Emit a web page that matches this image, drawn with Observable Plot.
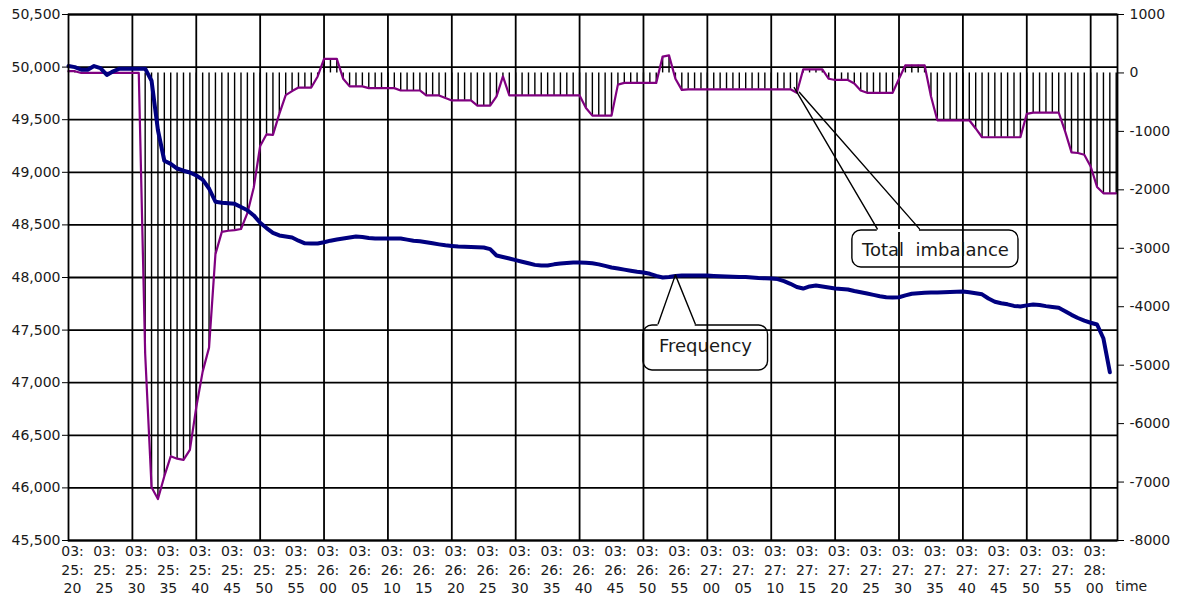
<!DOCTYPE html>
<html><head><meta charset="utf-8">
<script src="https://cdn.jsdelivr.net/npm/d3@7"></script>
<script src="https://cdn.jsdelivr.net/npm/@observablehq/plot@0.6"></script>
<style>
body{margin:0;background:#fff;font-family:"DejaVu Sans",sans-serif}
#chart{width:1179px;height:600px}
</style>
</head><body><div id="chart"></div>
<script>
// Category labels every 5 s (one sample per second)
const timeLabels = ["03:25:20","03:25:25","03:25:30","03:25:35","03:25:40","03:25:45","03:25:50","03:25:55",
  "03:26:00","03:26:05","03:26:10","03:26:15","03:26:20","03:26:25","03:26:30","03:26:35","03:26:40",
  "03:26:45","03:26:50","03:26:55","03:27:00","03:27:05","03:27:10","03:27:15","03:27:20","03:27:25",
  "03:27:30","03:27:35","03:27:40","03:27:45","03:27:50","03:27:55","03:28:00"];

// Frequency (left axis, mHz), one value per second from 03:25:20
const frequency = [
  50010,50000,49975,49975,50010,49990,49925,49960,49985,49985,
  49985,49985,49985,49870,49400,49110,49080,49036,49015,48998,
  48970,48930,48846,48720,48710,48705,48700,48670,48640,48590,
  48520,48470,48425,48400,48390,48380,48350,48325,48323,48323,
  48335,48350,48361,48370,48380,48390,48385,48375,48370,48370,
  48370,48370,48370,48360,48350,48345,48335,48325,48315,48306,
  48300,48295,48292,48290,48287,48285,48270,48209,48195,48181,
  48165,48150,48135,48120,48114,48115,48125,48133,48138,48143,
  48143,48140,48135,48125,48110,48095,48086,48075,48065,48055,
  48048,48035,48015,48000,48005,48015,48019,48019,48019,48019,
  48018,48015,48012,48010,48008,48005,48005,48000,47995,47992,
  47990,47985,47965,47940,47910,47895,47915,47924,47915,47905,
  47895,47890,47886,47872,47860,47848,47835,47822,47812,47810,
  47812,47830,47845,47850,47855,47857,47857,47860,47862,47865,
  47867,47860,47850,47840,47800,47770,47755,47745,47730,47724,
  47735,47743,47738,47728,47720,47712,47680,47645,47615,47590,
  47570,47553,47420,47100];

// Total imbalance (right axis, MW), one value per second from 03:25:20
const imbalance = [
  30,30,0,0,0,0,0,0,0,0,
  0,0,-4800,-7090,-7290,-6900,-6560,-6600,-6620,-6450,
  -5720,-5110,-4700,-3100,-2720,-2700,-2690,-2670,-2400,-1960,
  -1250,-1050,-1060,-700,-380,-310,-250,-250,-250,-60,
  240,240,240,-100,-230,-230,-230,-260,-260,-260,
  -260,-260,-300,-300,-300,-300,-385,-385,-385,-430,
  -470,-470,-470,-470,-560,-560,-560,-400,-60,-385,
  -385,-385,-385,-385,-385,-385,-385,-385,-385,-385,
  -385,-600,-730,-730,-730,-730,-200,-170,-170,-170,
  -170,-170,-170,280,300,-100,-290,-280,-280,-280,
  -280,-280,-280,-280,-280,-280,-280,-280,-280,-280,
  -280,-280,-280,-280,-340,60,60,60,60,-100,
  -120,-120,-120,-180,-300,-340,-340,-340,-340,-340,
  -100,130,130,130,130,-400,-810,-810,-810,-810,
  -810,-810,-950,-1100,-1100,-1100,-1100,-1100,-1100,-1100,
  -700,-680,-680,-680,-680,-680,-1000,-1360,-1370,-1400,
  -1600,-1950,-2060,-2060,-2060];

const freqTicks = [45500,46000,46500,47000,47500,48000,48500,49000,49500,50000,50500];
const imbTicks = [1000,0,-1000,-2000,-3000,-4000,-5000,-6000,-7000,-8000];

// map right-axis values onto the left-axis scale
const fDomain = [45500, 50500], iDomain = [-8000, 1000];
const toY = v => fDomain[0] + (v - iDomain[0]) * (fDomain[1] - fDomain[0]) / (iDomain[1] - iDomain[0]);
const fromY = y => iDomain[0] + (y - fDomain[0]) * (iDomain[1] - iDomain[0]) / (fDomain[1] - fDomain[0]);

// annotations (data coordinates: seconds, frequency units)
const freqCallout = {box: {t1: 90.0, t2: 109.5, f1: 47116, f2: 47544}, label: {t: 99.7, f: 47345, text: "Frequency"},
  pointer: [{t: 92.3, f: 47560}, {t: 95.0, f: 48025}, {t: 98.1, f: 47560}]};
const imbCallout = {box: {t1: 122.7, t2: 148.7, f1: 48095, f2: 48447}, label: {t: 135.7, f: 48262, text: "Total  imbalance"},
  pointers: [[{t: 113.6, f: toY(-250)}, {t: 126.6, f: 48462}], [{t: 114.4, f: toY(-330)}, {t: 133.2, f: 48462}]]};

const freqData = frequency.map((f, t) => ({t, f}));
const imbData = imbalance.map((v, t) => ({t, v}));
const labelSeconds = timeLabels.map((_, i) => i * 5);
const gridSeconds = labelSeconds.filter((s, i) => i % 2 === 0 && s > 0);
const ink = "#1a1a1a";

const chart = Plot.plot({
  width: 1179, height: 600,
  marginLeft: 68, marginRight: 62, marginTop: 14, marginBottom: 60,
  x: {domain: [0, 164.2], axis: null},
  y: {domain: fDomain, axis: null},
  style: {fontFamily: "'DejaVu Sans', sans-serif", fontSize: "14px", color: ink, background: "white"},
  marks: [
    Plot.gridY(freqTicks, {stroke: "#000", strokeOpacity: 1, strokeWidth: 1.8}),
    Plot.gridX(gridSeconds, {stroke: "#000", strokeOpacity: 1, strokeWidth: 1.8}),
    Plot.ruleX(imbData, {x: "t", y1: () => toY(0), y2: d => toY(d.v), stroke: "#000", strokeWidth: 1.4}),
    Plot.line(imbData, {x: "t", y: d => toY(d.v), stroke: "#800080", strokeWidth: 2.2}),
    Plot.line(freqData, {x: "t", y: "f", stroke: "#000080", strokeWidth: 4}),
    Plot.frame({stroke: "#000", strokeWidth: 1.8}),
    Plot.axisY(freqTicks, {anchor: "left", tickSize: 6, tickPadding: 2, tickFormat: d3.format(","), fontSize: 14, stroke: "#000"}),
    Plot.axisY(imbTicks.map(toY), {anchor: "right", tickSize: 6, tickPadding: 6, tickFormat: v => `${Math.round(fromY(v))}`, fontSize: 14, stroke: "#000"}),
    Plot.axisX(labelSeconds, {anchor: "bottom", tickSize: 0, tickPadding: 3, fontSize: 14, lineHeight: 1.3, dx: 4,
      tickFormat: d => timeLabels[Math.round(d / 5)].replace(/:/g, ":\n")}),
    Plot.text(["time"], {frameAnchor: "bottom-right", textAnchor: "start", dx: -2, dy: 50, fontSize: 14, fill: ink}),
    // Frequency callout
    Plot.rect([freqCallout.box], {x1: "t1", x2: "t2", y1: "f1", y2: "f2", rx: 9, fill: "none", stroke: "#000", strokeWidth: 1.4}),
    Plot.ruleY([freqCallout.box], {y: "f2", x1: () => freqCallout.pointer[0].t, x2: () => freqCallout.pointer[2].t, stroke: "white", strokeWidth: 3}),
    Plot.line(freqCallout.pointer, {x: "t", y: "f", stroke: "#000", strokeWidth: 1.4}),
    Plot.text([freqCallout.label], {x: "t", y: "f", text: "text", fontSize: 18, fill: ink}),
    // Total imbalance callout
    Plot.rect([imbCallout.box], {x1: "t1", x2: "t2", y1: "f1", y2: "f2", rx: 9, fill: "none", stroke: "#000", strokeWidth: 1.4}),
    Plot.ruleY([imbCallout.box], {y: "f2", x1: () => imbCallout.pointers[0][1].t, x2: () => imbCallout.pointers[1][1].t, stroke: "white", strokeWidth: 3}),
    Plot.line(imbCallout.pointers[0], {x: "t", y: "f", stroke: "#000", strokeWidth: 1.4}),
    Plot.line(imbCallout.pointers[1], {x: "t", y: "f", stroke: "#000", strokeWidth: 1.4}),
    Plot.text([imbCallout.label], {x: "t", y: "f", text: "text", fontSize: 18, fill: ink})
  ]
});
document.getElementById("chart").append(chart);
</script>
</body></html>
